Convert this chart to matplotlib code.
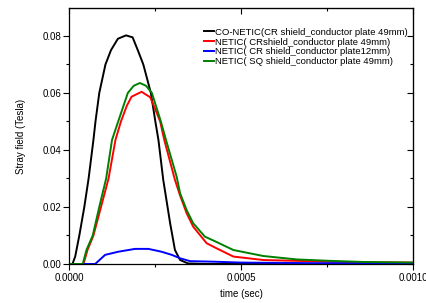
import numpy as np
import matplotlib.pyplot as plt
from matplotlib.ticker import MultipleLocator, FormatStrFormatter

plt.rcParams['font.family'] = ['Liberation Sans', 'DejaVu Sans']

# time (in 1e-4 s) and stray field (T)
t_co = [0, 0.1, 0.18, 0.30, 0.445, 0.57, 0.71, 0.77, 0.88, 1.06, 1.22, 1.42, 1.657,
        1.85, 2.0, 2.16, 2.38, 2.51, 2.6, 2.74, 2.94, 3.08, 3.23, 3.46, 4.0, 10]
b_co = [0, 0, 0.0026, 0.010, 0.020, 0.030, 0.0435, 0.050, 0.060, 0.070, 0.075, 0.0790, 0.0802,
        0.0795, 0.075, 0.070, 0.060, 0.050, 0.0435, 0.0295, 0.0143, 0.0049, 0.0014, 0.0002, 0, 0]

t_cr49 = [0, 0.42, 0.54, 0.71, 0.93, 1.15, 1.35, 1.51, 1.68, 1.82, 2.11, 2.36, 2.5, 2.65,
          2.77, 3.08, 3.23, 3.42, 3.61, 4.0, 4.24, 4.78, 5.65, 6.62, 7.59, 8.6, 10]
b_cr49 = [0, 0, 0.005, 0.010, 0.020, 0.030, 0.0435, 0.050, 0.0555, 0.0587, 0.0604, 0.0585, 0.0545, 0.050,
          0.0435, 0.0295, 0.024, 0.0178, 0.0131, 0.0073, 0.0058, 0.0026, 0.0014, 0.0011, 0.0008, 0.0006, 0.0005]

t_cr12 = [0, 0.76, 1.05, 1.43, 1.92, 2.31, 2.69, 2.99, 3.23, 3.52, 4.24, 5.0, 7.0, 10]
b_cr12 = [0, 0, 0.0032, 0.0043, 0.0053, 0.0053, 0.0043, 0.0032, 0.0020, 0.0010, 0.0008,
          0.0005, 0.0003, 0.0002]

t_sq49 = [0, 0.40, 0.51, 0.69, 0.88, 1.08, 1.25, 1.43, 1.71, 1.88, 2.06, 2.24, 2.41, 2.67,
          2.82, 3.13, 3.23, 3.42, 3.61, 3.95, 4.24, 4.78, 5.65, 6.62, 7.59, 8.6, 10]
b_sq49 = [0, 0, 0.005, 0.010, 0.020, 0.030, 0.0435, 0.050, 0.060, 0.0625, 0.0635, 0.0625, 0.060, 0.050,
          0.0435, 0.0306, 0.0248, 0.0189, 0.0143, 0.0096, 0.0080, 0.0049, 0.0028, 0.0016, 0.0011, 0.0007, 0.0005]

labels = ['CO-NETIC(CR shield_conductor plate 49mm)',
          'NETIC( CRshield_conductor plate 49mm)',
          'NETIC( CR shield_conductor plate12mm)',
          'NETIC( SQ shield_conductor plate 49mm)']

fig = plt.figure(figsize=(4.26, 3.03), dpi=100)
ax = fig.add_axes([69/426, 1-264/303, (413-69)/426, (264-8)/303])

sc = 1e-4
ax.plot(np.array(t_co) * sc, b_co, color='black', lw=1.4, label=labels[0])
ax.plot(np.array(t_cr49) * sc, b_cr49, color='#ff0000', lw=1.4, label=labels[1])
ax.plot(np.array(t_cr12) * sc, b_cr12, color='#0000ff', lw=1.4, label=labels[2])
ax.plot(np.array(t_sq49) * sc, b_sq49, color='#008000', lw=1.4, label=labels[3])

ax.set_xlim(0, 0.001)
ax.set_ylim(0, 0.0898)
ax.xaxis.set_major_locator(MultipleLocator(0.0005))
ax.xaxis.set_minor_locator(MultipleLocator(0.00025))
ax.yaxis.set_major_locator(MultipleLocator(0.02))
ax.yaxis.set_minor_locator(MultipleLocator(0.01))
ax.xaxis.set_major_formatter(FormatStrFormatter('%.4f'))
ax.yaxis.set_major_formatter(FormatStrFormatter('%.2f'))
ax.tick_params(which='both', direction='out', labelsize=7, width=0.8)
ax.tick_params(which='major', length=4.3)
ax.tick_params(which='minor', length=2.5)
ax.tick_params(axis='y', which='major', pad=1)
ax.tick_params(axis='x', which='major', pad=2.5)

# mirrored ticks on top/right, pointing inwards
sx = ax.secondary_xaxis('top')
sx.xaxis.set_major_locator(MultipleLocator(0.0005))
sx.xaxis.set_minor_locator(MultipleLocator(0.00025))
sx.tick_params(which='both', direction='in', labeltop=False, width=0.8)
sx.tick_params(which='major', length=4.3)
sx.tick_params(which='minor', length=2.5)
sy = ax.secondary_yaxis('right')
sy.yaxis.set_major_locator(MultipleLocator(0.02))
sy.yaxis.set_minor_locator(MultipleLocator(0.01))
sy.tick_params(which='both', direction='in', labelright=False, width=0.8)
sy.tick_params(which='major', length=4.3)
sy.tick_params(which='minor', length=2.5)

for s in ax.spines.values():
    s.set_linewidth(0.9)

ax.set_xlabel('time (sec)', fontsize=7, labelpad=4)
ax.set_ylabel('Stray field (Tesla)', fontsize=7, labelpad=12)

ax.legend(loc='upper right', fontsize=6.8, frameon=False, handlelength=1.0,
          handletextpad=0.1, labelspacing=0.08, bbox_to_anchor=(1.0, 0.945),
          borderaxespad=0.2)

plt.savefig('out.png', dpi=100)
